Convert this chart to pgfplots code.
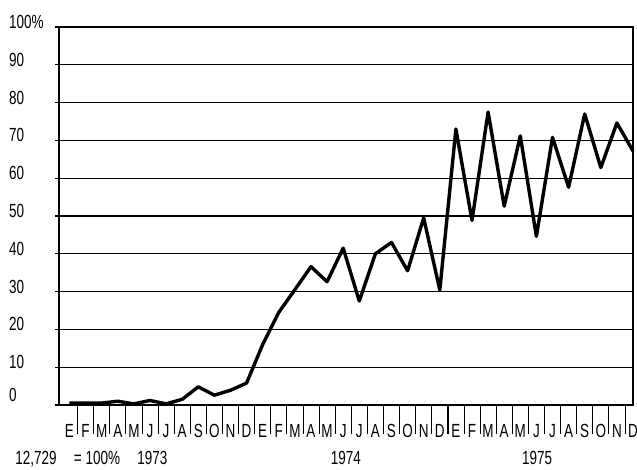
\documentclass[border=0pt]{standalone}
\usepackage{pgfplots}
\pgfplotsset{compat=1.18}
\usepackage{fontspec}
\setmainfont{Liberation Sans}[FakeStretch=0.71]
\newcommand{\chartfont}{\fontsize{19pt}{22pt}\selectfont}
\begin{document}
\begin{tikzpicture}
\useasboundingbox (-59pt,-65pt) rectangle (578pt,405pt);
\begin{axis}[
  at={(0,0)}, anchor=south west,
  scale only axis, width=574pt, height=378pt,
  xmin=-0.65, xmax=35, ymin=0, ymax=100,
  clip=false,
  axis line style={line width=1.4pt},
  tick label style={font=\chartfont},
  ytick={10,20,...,100},
  yticklabels={10,20,30,40,50,60,70,80,90,100\%},
  extra y ticks={0}, extra y tick labels={0},
  extra y tick style={yticklabel style={yshift=5pt}},
  ymajorgrids, grid style={black, line width=1.3pt},
  tick align=outside, major tick length=4pt,
  xtick pos=bottom, ytick pos=left,
  ytick style={line width=1.3pt, black},
  yticklabel style={anchor=west, inner sep=0pt, xshift=-46pt, yshift=5pt},
  xtick={0,...,35},
  xticklabels={E,F,M,A,M,J,J,A,S,O,N,D,E,F,M,A,M,J,J,A,S,O,N,D,E,F,M,A,M,J,J,A,S,O,N,D},
  major x tick style={draw=none},
  minor xtick={0.5,1.5,...,34.5},
  minor tick length=29pt,
  minor x tick style={line width=0.8pt, black},
  xticklabel style={anchor=base, inner sep=0pt, yshift=-29pt},
]
\addplot[black, line width=3.4pt, line join=round] coordinates {
(0,0.5) (1,0.5) (2,0.5) (3,1.0) (4,0.3) (5,1.2) (6,0.3) (7,1.5) (8,4.8) (9,2.6) (10,3.9) (11,5.8)
(12,16) (13,24.5) (14,30.5) (15,36.6) (16,32.6) (17,41.5) (18,27.5) (19,40) (20,43) (21,35.5) (22,49.5) (23,30.4)
(24,73) (25,48.8) (26,77.5) (27,52.6) (28,71.2) (29,44.6) (30,70.8) (31,57.6) (32,77) (33,62.8) (34,74.6) (35,67.2)
};
\draw[line width=1.6pt] (axis cs:11.5,0) -- ++(0pt,-29pt);
\draw[line width=1.6pt] (axis cs:23.5,0) -- ++(0pt,-29pt);
\node[anchor=base, inner sep=0pt, font=\chartfont] at (rel axis cs:0,0) [xshift=-23pt, yshift=-60pt] {12,729};
\node[anchor=base, inner sep=0pt, font=\chartfont] at (rel axis cs:0,0) [xshift=38pt, yshift=-60pt] {= 100\%};
\node[anchor=base, inner sep=0pt, font=\chartfont] at (rel axis cs:0,0) [xshift=93.5pt, yshift=-60pt] {1973};
\node[anchor=base, inner sep=0pt, font=\chartfont] at (rel axis cs:0,0) [xshift=287pt, yshift=-60pt] {1974};
\node[anchor=base, inner sep=0pt, font=\chartfont] at (rel axis cs:0,0) [xshift=478pt, yshift=-60pt] {1975};
\end{axis}
\end{tikzpicture}
\end{document}
